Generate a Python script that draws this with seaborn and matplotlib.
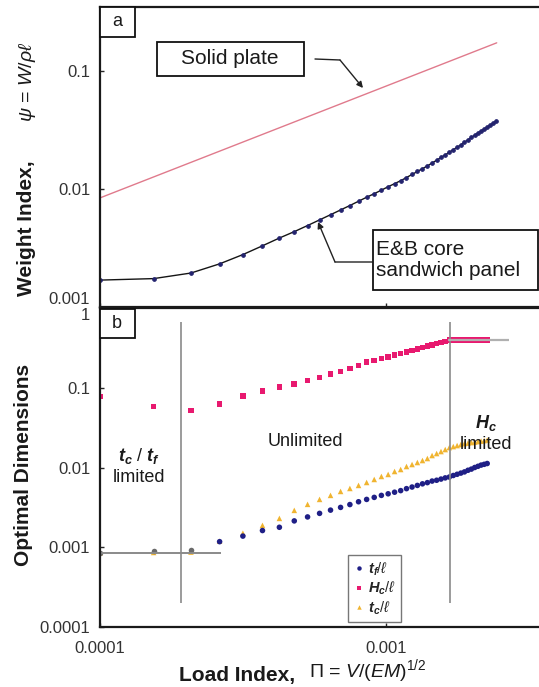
import numpy as np
import pandas as pd
import seaborn as sns
import matplotlib.pyplot as plt
from matplotlib.patches import Rectangle

# ---- data ----
# load index (shared x values of the optimisation runs)
load_index = [0.0001, 0.000154, 0.000208, 0.000262, 0.000316, 0.00037, 0.000424,
              0.000478, 0.000532, 0.000586, 0.00064, 0.000694, 0.000748, 0.000802,
              0.000856, 0.00091, 0.000964, 0.001018, 0.001072, 0.001126, 0.00118,
              0.001234, 0.001288, 0.001342, 0.001396, 0.00145, 0.001504, 0.001558,
              0.001612, 0.001666, 0.00172, 0.001774, 0.001828, 0.001882, 0.001936,
              0.00199, 0.002044, 0.002098, 0.002152, 0.002206, 0.00226]
load_index_a = load_index + [0.002314, 0.002368, 0.002422]

# panel a: weight index
solid_load = [0.0001, 0.001, 0.00244]
solid_weight = [0.0084, 0.0743, 0.173]
sandwich_weight = [0.00169, 0.00174, 0.00194, 0.00232, 0.00278, 0.00330, 0.00384,
                   0.00435, 0.00490, 0.00547, 0.00605, 0.00664, 0.00724, 0.00787,
                   0.00851, 0.00912, 0.00977, 0.01045, 0.01109, 0.01175, 0.01250,
                   0.01327, 0.01406, 0.01486, 0.01567, 0.01660, 0.01750, 0.01849,
                   0.01945, 0.02046, 0.02153, 0.02254, 0.02366, 0.02489, 0.02606,
                   0.02729, 0.02858, 0.02985, 0.03105, 0.03221, 0.03342, 0.03467,
                   0.03606, 0.03750]

# panel b: optimal dimensions
tf = [0.00085, 0.000891, 0.000912, 0.001175, 0.00138, 0.00162, 0.00178, 0.00214,
      0.00240, 0.00266, 0.00292, 0.00316, 0.00343, 0.00372, 0.00398, 0.00422,
      0.00447, 0.00468, 0.00490, 0.00513, 0.00543, 0.00569, 0.00596, 0.00624,
      0.00646, 0.00676, 0.00692, 0.00716, 0.00741, 0.00759, 0.00794, 0.00822,
      0.00851, 0.00881, 0.00923, 0.00955, 0.0100, 0.01035, 0.01072, 0.01096, 0.01122]
hc = [0.0772, 0.0579, 0.0516, 0.063, 0.0794, 0.0917, 0.102, 0.112, 0.123, 0.135,
      0.148, 0.160, 0.174, 0.191, 0.209, 0.221, 0.232, 0.244, 0.257, 0.270, 0.282,
      0.295, 0.308, 0.320, 0.333, 0.345, 0.357, 0.370, 0.382, 0.394, 0.398, 0.398,
      0.398, 0.398, 0.398, 0.398, 0.398, 0.398, 0.398, 0.398, 0.398]
tc = [0.00085, 0.00086, 0.00087, 0.00119, 0.0015, 0.00188, 0.0023, 0.0029, 0.00345,
      0.00398, 0.00447, 0.00501, 0.00546, 0.00596, 0.00649, 0.00708, 0.00772,
      0.00818, 0.00891, 0.00944, 0.01029, 0.0109, 0.01155, 0.01223, 0.01296, 0.01413,
      0.01496, 0.01585, 0.01679, 0.01778, 0.0183, 0.01884, 0.01939, 0.01995, 0.02023,
      0.02054, 0.02084, 0.02113, 0.02143, 0.02175, 0.02208]

# regime boundaries
tc_tf_limit = 0.000192
hc_limit_load = 0.00168
hc_max = 0.4
min_gauge = 0.00085

lab_tf = r"$\mathbf{t}_\mathbf{f}/\ell$"
lab_hc = r"$\mathbf{H}_\mathbf{c}/\ell$"
lab_tc = r"$\mathbf{t}_\mathbf{c}/\ell$"

sns.set_style("ticks")
plt.rcParams["font.family"] = ["Liberation Sans", "DejaVu Sans"]
plt.rcParams["mathtext.fontset"] = "custom"
plt.rcParams["mathtext.rm"] = "Liberation Sans"
plt.rcParams["mathtext.it"] = "Liberation Sans:italic"
plt.rcParams["mathtext.bf"] = "Liberation Sans:italic:bold"

W, H = 539, 687
fig = plt.figure(figsize=(W / 100, H / 100), dpi=100)


def box(l, t, r, b):
    return [l / W, 1 - b / H, (r - l) / W, (b - t) / H]


ax1 = fig.add_axes(box(100, 7, 539, 307))
ax2 = fig.add_axes(box(100, 308, 539, 627))

# panel a
sns.lineplot(x=solid_load, y=solid_weight, ax=ax1, color="#e07a8c", lw=1.0)
top = pd.DataFrame({"load": load_index_a, "weight": sandwich_weight})
sns.lineplot(data=top, x="load", y="weight", ax=ax1, color="#151515", lw=1.0,
             marker="o", markersize=2.6, markerfacecolor="#23236e",
             markeredgecolor="#23236e")

# panel b
ax2.vlines([tc_tf_limit, hc_limit_load], 0.0002, 0.67, color="#8a8a8a", lw=1.2)
ax2.hlines(min_gauge, 0.0001, 0.000265, color="#8a8a8a", lw=1.4)
ax2.hlines(hc_max, 0.00165, 0.0027, color="#b0b0b0", lw=1.6)

n = len(load_index)
dims = pd.DataFrame({
    "load": load_index * 2 + load_index[3:],
    "value": tc + hc + tf[3:],
    "ratio": [lab_tc] * n + [lab_hc] * n + [lab_tf] * (n - 3),
})
sns.scatterplot(data=dims, x="load", y="value", hue="ratio", style="ratio",
                hue_order=[lab_tf, lab_hc, lab_tc], style_order=[lab_tf, lab_hc, lab_tc],
                palette={lab_tf: "#1f1f86", lab_hc: "#e8196f", lab_tc: "#f0b430"},
                markers={lab_tf: "o", lab_hc: "s", lab_tc: "^"},
                s=16, linewidth=0, ax=ax2)
sns.scatterplot(x=load_index[:3], y=tf[:3], color="#6a6a6a", s=16, linewidth=0,
                ax=ax2, legend=False)

handles, labels = ax2.get_legend_handles_labels()
ax2.legend(handles, labels, loc="upper left", bbox_to_anchor=(348 / W, 1 - 555 / H),
           bbox_transform=fig.transFigure, fontsize=10.5, frameon=True, fancybox=False,
           edgecolor="#777777", framealpha=1, handletextpad=0.2, borderpad=0.35,
           labelspacing=0.15, handlelength=0.8, borderaxespad=0, markerscale=0.8)

# axes styling
xmax = 0.00343
for ax in (ax1, ax2):
    ax.set(xscale="log", yscale="log", xlim=(0.0001, xmax), xlabel="", ylabel="")
    ax.spines["right"].set_visible(False)
    for s in ("left", "top", "bottom"):
        ax.spines[s].set_linewidth(1.6)
        ax.spines[s].set_color("#1a1a1a")
    ax.tick_params(which="minor", length=0)
    ax.tick_params(which="major", direction="in", length=3, width=1,
                   labelsize=12, labelcolor="#333333", pad=7)
    ax.tick_params(axis="x", pad=10)

ax1.set_ylim(0.001, 0.348)
ax1.set_yticks([0.001, 0.01, 0.1], labels=["0.001", "0.01", "0.1"])
ax1.set_xticks([0.0001, 0.001], labels=["", ""])
ax1.get_yticklabels()[0].set_verticalalignment("bottom")

ax2.set_ylim(0.0001, 1)
ax2.set_yticks([0.0001, 0.001, 0.01, 0.1, 1], labels=["0.0001", "0.001", "0.01", "0.1", "1"])
ax2.set_xticks([0.0001, 0.001], labels=["0.0001", "0.001"])
ax2.get_yticklabels()[-1].set_verticalalignment("top")

# boxes and labels (figure pixel positions)
def rect(l, t, r, b):
    fig.add_artist(Rectangle((l / W, 1 - b / H), (r - l) / W, (b - t) / H,
                             transform=fig.transFigure, fc="white", ec="#111111",
                             lw=1.3, zorder=5))


def ftext(x, y, s, **kw):
    kw.setdefault("ha", "center")
    kw.setdefault("va", "center")
    kw.setdefault("color", "#1a1a1a")
    fig.text(x / W, 1 - y / H, s, zorder=6, **kw)


rect(100, 7, 135, 37)
ftext(117, 22, "a", fontsize=13)
rect(100, 309, 135, 338)
ftext(117, 324, "b", fontsize=13)
rect(157, 42, 304, 76)
ftext(230, 59, "Solid plate", fontsize=15)
rect(373, 230, 538, 290)
ftext(376, 260, "E&B core\nsandwich panel", fontsize=15, ha="left", linespacing=1.1)

arrow = dict(arrowstyle="-|>", color="#222222", lw=1.0, mutation_scale=9,
             shrinkA=0, shrinkB=0)
plain = dict(arrowstyle="-", color="#222222", lw=1.0, shrinkA=0, shrinkB=0)
fig.add_artist(plt.Annotation("", xy=(340, H - 60), xytext=(315, H - 59),
                              xycoords="figure pixels", arrowprops=plain))
fig.add_artist(plt.Annotation("", xy=(363, H - 88), xytext=(340, H - 60),
                              xycoords="figure pixels", arrowprops=arrow))
fig.add_artist(plt.Annotation("", xy=(335, H - 262), xytext=(372, H - 262),
                              xycoords="figure pixels", arrowprops=plain))
fig.add_artist(plt.Annotation("", xy=(318, H - 222), xytext=(335, H - 262),
                              xycoords="figure pixels", arrowprops=arrow))

ftext(305, 442, "Unlimited", fontsize=13)
ftext(139, 466, r"$\mathbf{t}_\mathbf{c}$ / $\mathbf{t}_\mathbf{f}$" + "\nlimited", fontsize=13)
ftext(486, 433, r"$\mathbf{H}_\mathbf{c}$" + "\nlimited", fontsize=13)

# axis titles
ftext(27, 228, "Weight Index,", rotation=90, fontsize=15, fontweight="bold")
ftext(28, 82, r"$\psi$ = $W$/$\rho\ell$", rotation=90, fontsize=14)
ftext(24, 465, "Optimal Dimensions", rotation=90, fontsize=15, fontweight="bold")
ftext(237, 675, "Load Index,", fontsize=15, fontweight="bold")
ftext(368, 671, r"$\Pi$ = $V$/($EM$)$^{1/2}$", fontsize=14)

plt.savefig("out.png", dpi=100)
